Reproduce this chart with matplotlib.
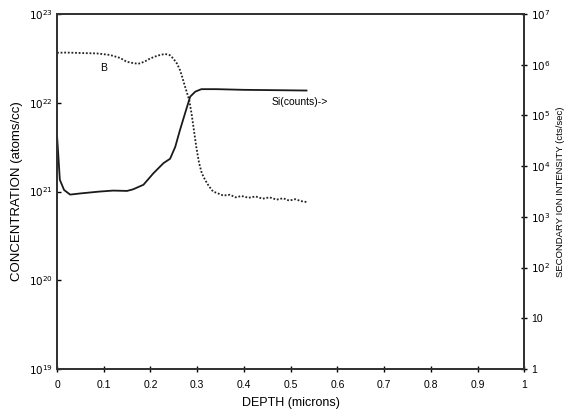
"""SIMS depth profile: boron concentration and Si counts vs depth."""

import matplotlib
matplotlib.use('Agg')
import matplotlib.pyplot as plt
from matplotlib.ticker import FixedLocator, NullLocator

plt.rcParams['font.family'] = ['Liberation Sans', 'DejaVu Sans']

# Boron concentration (atoms/cc)
b_depth = [0.0, 0.02, 0.056, 0.085, 0.113, 0.135, 0.149, 0.163, 0.174, 0.187,
           0.199, 0.215, 0.231, 0.241, 0.249, 0.257, 0.263, 0.268, 0.272,
           0.278, 0.283, 0.288, 0.293, 0.298, 0.304, 0.31, 0.317, 0.325,
           0.334, 0.345, 0.356, 0.37, 0.382, 0.395, 0.41, 0.425, 0.44,
           0.455, 0.47, 0.484, 0.497, 0.51, 0.522, 0.535]
b_conc = [3.66e22, 3.68e22, 3.63e22, 3.6e22, 3.46e22, 3.2e22, 2.9e22,
          2.8e22, 2.75e22, 2.9e22, 3.15e22, 3.4e22, 3.55e22, 3.45e22,
          3.15e22, 2.75e22, 2.35e22, 1.95e22, 1.65e22, 1.3e22, 1.07e22,
          7.5e21, 4.9e21, 3.2e21, 2.1e21, 1.6e21, 1.35e21, 1.15e21, 1.0e21,
          9.5e20, 9.0e20, 9.2e20, 8.6e20, 8.9e20, 8.5e20, 8.8e20, 8.3e20,
          8.6e20, 8.1e20, 8.4e20, 7.9e20, 8.2e20, 7.8e20, 7.6e20]

# Si secondary ion intensity (cts/sec)
si_depth = [0.0, 0.003, 0.006, 0.015, 0.028, 0.05, 0.09, 0.12, 0.15, 0.163,
            0.185, 0.206, 0.228, 0.242, 0.253, 0.263, 0.274, 0.285, 0.296,
            0.309, 0.341, 0.4, 0.47, 0.534]
si_counts = [4.0e4, 1.5e4, 5.4e3, 3.4e3, 2.75e3, 2.9e3, 3.15e3, 3.3e3,
             3.25e3, 3.5e3, 4.3e3, 7.2e3, 1.15e4, 1.4e4, 2.4e4, 5.1e4,
             1.1e5, 2.35e5, 2.95e5, 3.3e5, 3.3e5, 3.2e5, 3.15e5, 3.1e5]

left_ticks = [1e19, 1e20, 1e21, 1e22, 1e23]
left_labels = ['$10^{19}$', '$10^{20}$', '$10^{21}$', '$10^{22}$', '$10^{23}$']
right_ticks = [1, 10, 1e2, 1e3, 1e4, 1e5, 1e6, 1e7]
right_labels = ['1', '10', '$10^{2}$', '$10^{3}$', '$10^{4}$', '$10^{5}$',
                '$10^{6}$', '$10^{7}$']
x_ticks = [0, 0.1, 0.2, 0.3, 0.4, 0.5, 0.6, 0.7, 0.8, 0.9, 1]
x_labels = ['0', '0.1', '0.2', '0.3', '0.4', '0.5', '0.6', '0.7', '0.8',
            '0.9', '1']

fig = plt.figure(figsize=(5.72, 4.15), dpi=100)
ax = fig.add_axes([0.0997, 0.1108, 0.8168, 0.8554])
ax2 = ax.twinx()

ax.plot(b_depth, b_conc, linestyle=(0, (1, 1)), color='#222222',
        linewidth=1.3)
ax2.plot(si_depth, si_counts, linestyle='-', color='#1a1a1a', linewidth=1.3)

ax.set_yscale('log')
ax2.set_yscale('log')
ax.set_xlim(0, 1)
ax.set_ylim(1e19, 1e23)
ax2.set_ylim(1, 1e7)

ax.xaxis.set_major_locator(FixedLocator(x_ticks))
ax.set_xticklabels(x_labels)
ax.yaxis.set_major_locator(FixedLocator(left_ticks))
ax.yaxis.set_minor_locator(NullLocator())
ax.set_yticklabels(left_labels)
ax2.yaxis.set_major_locator(FixedLocator(right_ticks))
ax2.yaxis.set_minor_locator(NullLocator())
ax2.set_yticklabels(right_labels)

for a in (ax, ax2):
    for sp in a.spines.values():
        sp.set_linewidth(1.3)
        sp.set_color('#333333')
ax.tick_params(axis='x', direction='inout', length=4, width=1, pad=6,
               labelsize=7.5)
ax.tick_params(axis='y', direction='in', length=3, width=1, pad=3,
               labelsize=7.5)
ax2.tick_params(axis='y', direction='inout', length=4, width=1, pad=3,
                labelsize=7.5)

ax.set_xlabel('DEPTH (microns)', fontsize=9, labelpad=5)
ax.set_ylabel('CONCENTRATION (atoms/cc)', fontsize=9.5, labelpad=4)
ax2.set_ylabel('SECONDARY ION INTENSITY (cts/sec)', fontsize=6.8,
               labelpad=4)

ax.text(0.099, 2.45e22, 'B', fontsize=7.5, ha='center', va='center')
ax.text(0.46, 1.02e22, 'Si(counts)->', fontsize=7.5, ha='left',
        va='center')

fig.savefig('out.png', dpi=100)
